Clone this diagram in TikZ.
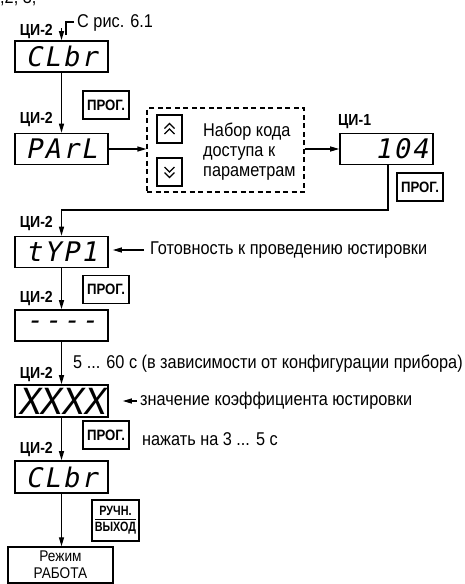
\documentclass[tikz,border=0pt]{standalone}
\usepackage{fontspec}
\setmainfont[FakeStretch=0.88]{Liberation Sans}
\newfontfamily\segfont[FakeSlant=0.2,LetterSpace=8]{DejaVu Sans Mono}
\newfontfamily\xfont[FakeSlant=0.15]{DejaVu Sans Mono}
\newfontfamily\narrowbold[FakeStretch=0.8]{Liberation Sans Bold}
\usetikzlibrary{arrows.meta}
\begin{document}
\begin{tikzpicture}[x=1pt,y=-1pt,
  disp/.style={draw,line width=1.6pt,minimum width=93pt,minimum height=31pt,inner sep=0pt,font=\segfont\fontsize{27}{27}\selectfont},
  key/.style={draw,line width=1.1pt,minimum width=46pt,minimum height=28pt,inner sep=0pt,font=\fontsize{15}{17}\selectfont\bfseries},
  lbl/.style={inner sep=0pt,font=\fontsize{16}{18}\selectfont\bfseries},
  txt/.style={inner sep=0pt,font=\fontsize{18.5}{20}\selectfont},
  btn/.style={draw,line width=1.1pt,minimum width=25pt,minimum height=28pt,inner sep=0pt},
  conn/.style={line width=1.2pt},
  arr/.style={conn,-{Triangle[length=9pt,width=5pt]}},
  chev/.style={line width=1.1pt},
]
\useasboundingbox (0,0) rectangle (465,584);

% cut-off fragment at the top
\node[txt,anchor=base west] (frag) at (0,3) {,2, 3,};

% first block
\node[lbl,anchor=base east] (l1) at (53,35) {ЦИ-2};
\node[txt,anchor=base west] (src) at (77,27) {С рис. 6.1};
\node[disp] (d1) at (61.5,56.5) {CLbr};
\coordinate (s1) at (61.5,28);
\draw[arr] (s1) -- (d1.north);
\coordinate (c1) at (74,22);
\coordinate (c2) at (66,22);
\coordinate (c3) at (66,35);
\draw[conn] (c1) -- (c2) -- (c3);

\node[key] (k1) at (106,105) {ПРОГ.};
\node[lbl,anchor=base east] (l2) at (53,123) {ЦИ-2};
\node[disp] (d2) at (61.5,149) {PArL};
\draw[arr] (d1) -- (d2);

% access code group
\node[draw,dashed,dash pattern=on 5pt off 3.5pt,line width=1.2pt,minimum width=157pt,minimum height=84pt,inner sep=0pt] (grp) at (225.5,150) {};
\node[btn] (up) at (169.5,129) {};
\node[btn] (dn) at (169.5,172) {};
\draw[chev] ([shift={(-5,-0.5)}]up.center) -- ([shift={(0,-5.5)}]up.center) -- ([shift={(5,-0.5)}]up.center);
\draw[chev] ([shift={(-5,5)}]up.center) -- ([shift={(0,0)}]up.center) -- ([shift={(5,5)}]up.center);
\draw[chev] ([shift={(-5,0.5)}]dn.center) -- ([shift={(0,5.5)}]dn.center) -- ([shift={(5,0.5)}]dn.center);
\draw[chev] ([shift={(-5,-5)}]dn.center) -- ([shift={(0,0)}]dn.center) -- ([shift={(5,-5)}]dn.center);
\node[txt,align=left,anchor=west] (t1) at (203,152) {Набор кода\\доступа к\\параметрам};
\draw[arr] (d2.east) -- (d2.east -| grp.west);

\node[lbl,anchor=base west] (l3) at (338,125) {ЦИ-1};
\node[disp,text width=83pt,align=right] (d3) at (386.5,149) {104};
\draw[arr] (grp.east |- d3.west) -- (d3.west);
\node[key] (k2) at (420,187) {ПРОГ.};

% tYP1
\node[lbl,anchor=base east] (l4) at (53,227) {ЦИ-2};
\node[disp] (d4) at (61.5,252) {tYP1};
\coordinate (b1) at (388,210);
\draw[arr] (d3.south -| b1) -- (b1) -- (b1 -| d4.north) -- (d4.north);
\node[txt,anchor=west] (g) at (150,250) {Готовность к проведению юстировки};
\draw[arr,shorten <=6pt,shorten >=4pt] (g.west) -- (g.west -| d4.east);

\node[key] (k3) at (106,289.5) {ПРОГ.};
\node[lbl,anchor=base east] (l5) at (53,302) {ЦИ-2};
\node[disp] (d5) at (61.5,325.5) {----};
\draw[arr] (d4) -- (d5);

% XXXX
\node[txt,anchor=base west] (t5) at (73,368) {5 ... 60 с (в зависимости от конфигурации прибора)};
\node[lbl,anchor=base east] (l6) at (53,378) {ЦИ-2};
\node[disp,minimum height=32pt,font=\xfont\fontsize{36}{36}\selectfont] (d6) at (61.5,401) {XXXX};
\draw[arr] (d5) -- (d6);
\node[txt,anchor=west] (z) at (140,401) {значение коэффициента юстировки};
\draw[arr,shorten <=3pt,shorten >=14pt] (z.west) -- (z.west -| d6.east);

\node[key] (k4) at (106,435) {ПРОГ.};
\node[txt,anchor=west] (n) at (142,439) {нажать на 3 ... 5 с};
\node[lbl,anchor=base east] (l7) at (53,453) {ЦИ-2};
\node[disp,minimum height=32pt] (d7) at (61.5,477) {CLbr};
\draw[arr] (d6) -- (d7);

\node[draw,line width=1.1pt,minimum width=47pt,minimum height=41pt,inner sep=0pt,font=\narrowbold\fontsize{13.5}{15}\selectfont] (k5) at (115.5,520.5)
  {\begin{tabular}{@{}c@{}}РУЧН.\\[-1pt]\hline\rule{0pt}{12pt}ВЫХОД\end{tabular}};

\node[draw,line width=1.4pt,minimum width=105pt,minimum height=36pt,inner sep=0pt,align=center,font=\fontsize{15.5}{17}\selectfont] (d8) at (60.5,565) {Режим\\РАБОТА};
\draw[arr] (d7.south) -- (d7.south |- d8.north);
\end{tikzpicture}
\end{document}
